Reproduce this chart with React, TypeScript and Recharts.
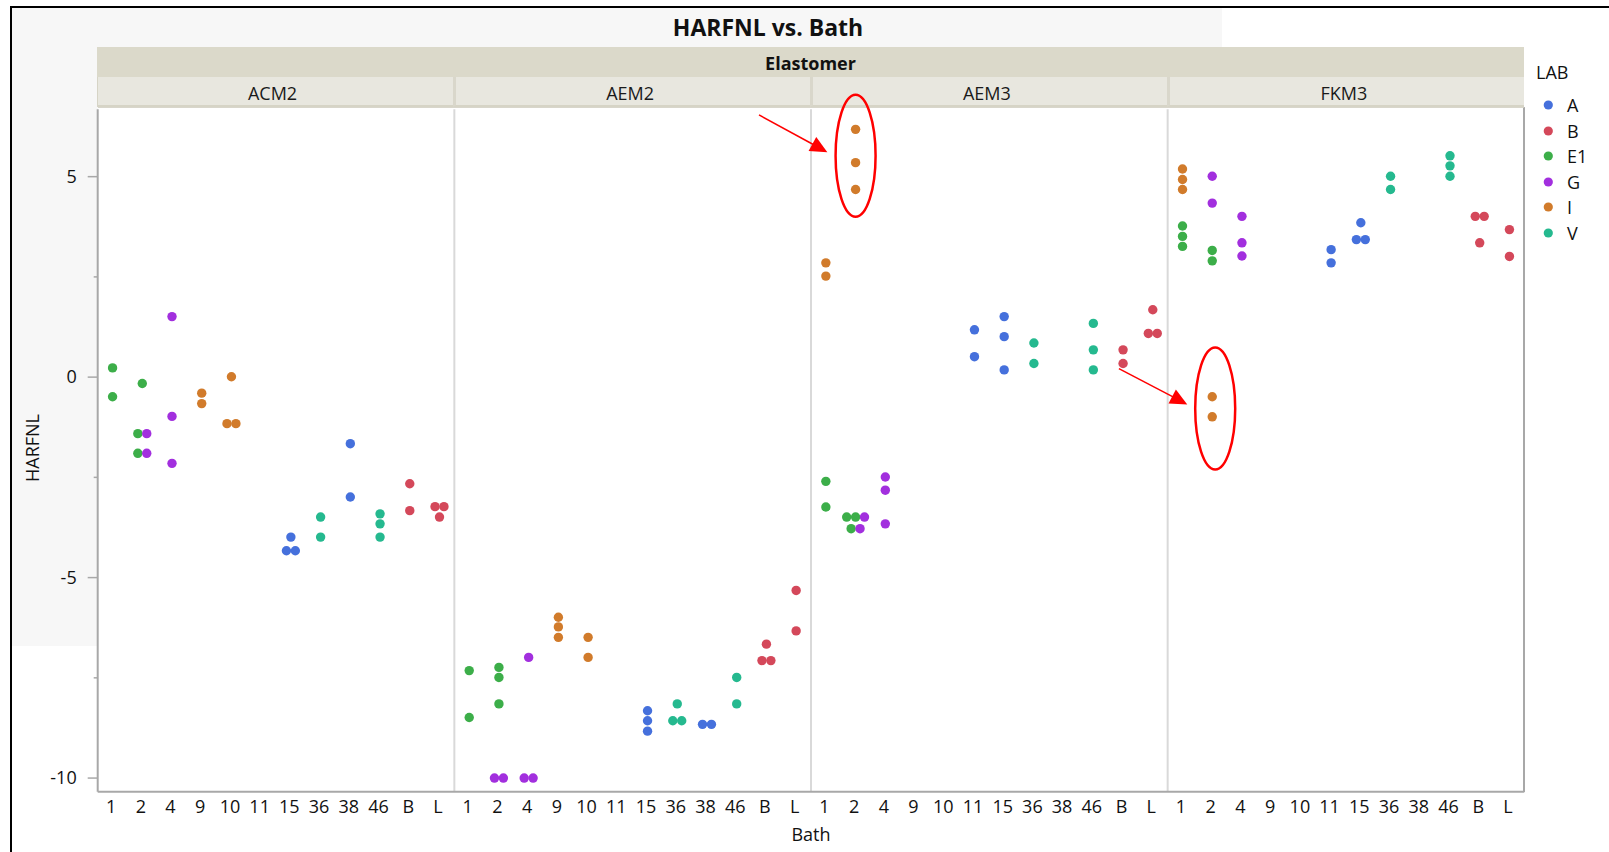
import React from "react";
import { ScatterChart, Scatter, XAxis, YAxis, ReferenceLine, ReferenceDot } from "recharts";

// ---------- data ----------
const elastomers = ["ACM2", "AEM2", "AEM3", "FKM3"];
const baths = ["1", "2", "4", "9", "10", "11", "15", "36", "38", "46", "B", "L"];
const labs = ["A", "B", "E1", "G", "I", "V"];
const labColors = ["#4570DC", "#D4485A", "#3CAE49", "#A22FDE", "#D17B2B", "#25B98F"];
const yTicks = [-10, -7.5, -5, -2.5, 0, 2.5, 5];

type Obs = [string, string, number]; // elastomer, bath, HARFNL

const labA: Obs[] = [
  ["ACM2", "15", -3.99], ["ACM2", "15", -4.33], ["ACM2", "15", -4.33], ["ACM2", "38", -1.66], ["ACM2", "38", -2.99],
  ["AEM2", "15", -8.32], ["AEM2", "15", -8.57], ["AEM2", "15", -8.83], ["AEM2", "38", -8.66], ["AEM2", "38", -8.66],
  ["AEM3", "11", 1.18], ["AEM3", "11", 0.51], ["AEM3", "15", 1.51], ["AEM3", "15", 1.01], ["AEM3", "15", 0.18],
  ["FKM3", "11", 3.18], ["FKM3", "11", 2.85], ["FKM3", "15", 3.85], ["FKM3", "15", 3.43], ["FKM3", "15", 3.43],
];
const labB: Obs[] = [
  ["ACM2", "B", -2.66], ["ACM2", "B", -3.33], ["ACM2", "L", -3.23], ["ACM2", "L", -3.23], ["ACM2", "L", -3.49],
  ["AEM2", "B", -6.66], ["AEM2", "B", -7.07], ["AEM2", "B", -7.07], ["AEM2", "L", -5.32], ["AEM2", "L", -6.33],
  ["AEM3", "B", 0.68], ["AEM3", "B", 0.34], ["AEM3", "L", 1.68], ["AEM3", "L", 1.09], ["AEM3", "L", 1.09],
  ["FKM3", "B", 4.01], ["FKM3", "B", 4.01], ["FKM3", "B", 3.35], ["FKM3", "L", 3.68], ["FKM3", "L", 3.01],
];
const labE1: Obs[] = [
  ["ACM2", "1", 0.23], ["ACM2", "1", -0.49], ["ACM2", "2", -0.16], ["ACM2", "2", -1.41], ["ACM2", "2", -1.9],
  ["AEM2", "1", -7.32], ["AEM2", "1", -8.49], ["AEM2", "2", -7.24], ["AEM2", "2", -7.49], ["AEM2", "2", -8.15],
  ["AEM3", "1", -2.6], ["AEM3", "1", -3.24], ["AEM3", "2", -3.49], ["AEM3", "2", -3.49], ["AEM3", "2", -3.78],
  ["FKM3", "1", 3.77], ["FKM3", "1", 3.51], ["FKM3", "1", 3.26], ["FKM3", "2", 3.16], ["FKM3", "2", 2.9],
];
const labG: Obs[] = [
  ["ACM2", "2", -1.41], ["ACM2", "2", -1.9], ["ACM2", "4", 1.51], ["ACM2", "4", -0.98], ["ACM2", "4", -2.15],
  ["AEM2", "2", -10], ["AEM2", "2", -10], ["AEM2", "4", -6.99], ["AEM2", "4", -10], ["AEM2", "4", -10],
  ["AEM3", "2", -3.49], ["AEM3", "2", -3.78], ["AEM3", "4", -2.49], ["AEM3", "4", -2.82], ["AEM3", "4", -3.66],
  ["FKM3", "2", 5.01], ["FKM3", "2", 4.34], ["FKM3", "4", 4.01], ["FKM3", "4", 3.35], ["FKM3", "4", 3.02],
];
const labI: Obs[] = [
  ["ACM2", "9", -0.4], ["ACM2", "9", -0.66], ["ACM2", "10", 0.01], ["ACM2", "10", -1.16], ["ACM2", "10", -1.16],
  ["AEM2", "9", -5.99], ["AEM2", "9", -6.23], ["AEM2", "9", -6.49], ["AEM2", "10", -6.49], ["AEM2", "10", -6.99],
  ["AEM3", "1", 2.85], ["AEM3", "1", 2.52], ["AEM3", "2", 6.18], ["AEM3", "2", 5.35], ["AEM3", "2", 4.68],
  ["FKM3", "1", 5.19], ["FKM3", "1", 4.93], ["FKM3", "1", 4.68], ["FKM3", "2", -0.49], ["FKM3", "2", -0.99],
];
const labV: Obs[] = [
  ["ACM2", "36", -3.49], ["ACM2", "36", -3.99], ["ACM2", "46", -3.41], ["ACM2", "46", -3.66], ["ACM2", "46", -3.99],
  ["AEM2", "36", -8.15], ["AEM2", "36", -8.57], ["AEM2", "36", -8.57], ["AEM2", "46", -7.49], ["AEM2", "46", -8.15],
  ["AEM3", "36", 0.85], ["AEM3", "36", 0.34], ["AEM3", "46", 1.34], ["AEM3", "46", 0.68], ["AEM3", "46", 0.18],
  ["FKM3", "36", 5.01], ["FKM3", "36", 4.68], ["FKM3", "46", 5.52], ["FKM3", "46", 5.27], ["FKM3", "46", 5.01],
];
const labData = [labA, labB, labE1, labG, labI, labV];

// red call-outs (in data space: x = panel*12 + bath index, y = HARFNL)
const callouts = [
  { from: [21.75, 6.54], to: [24.05, 5.61], center: [25, 5.52] },
  { from: [33.86, 0.21], to: [36.16, -0.68], center: [37.1, -0.78] },
];

// ---------- layout constants ----------
const W = 1609;
const H = 852;
const PL = 97.7;
const PR = 1524.3;
const PT = 109.3;
const PB = 791.7;
const FONT = "'Segoe UI', 'Open Sans', 'Noto Sans', sans-serif";
const N = elastomers.length * baths.length;
const panelW = (PR - PL) / elastomers.length;

// jitter overlapping points side by side (JMP-like)
type Pt = { x: number; y: number; lab: number };
function buildPoints(): Pt[][] {
  const all: { lab: number; base: number; y: number; ord: number }[] = [];
  let ord = 0;
  labData.forEach((arr, li) =>
    arr.forEach(([e, b, v]) => {
      all.push({ lab: li, base: elastomers.indexOf(e) * baths.length + baths.indexOf(b), y: v, ord: ord++ });
    })
  );
  const out: Pt[][] = labs.map(() => []);
  const groups = new Map<number, typeof all>();
  all.forEach((p) => {
    if (!groups.has(p.base)) groups.set(p.base, []);
    groups.get(p.base)!.push(p);
  });
  groups.forEach((arr, base) => {
    const sorted = [...arr].sort((a, b) => b.y - a.y || a.ord - b.ord);
    const clusters: (typeof all)[] = [];
    sorted.forEach((p) => {
      const last = clusters[clusters.length - 1];
      if (last && Math.abs(last[last.length - 1].y - p.y) < 0.2) last.push(p);
      else clusters.push([p]);
    });
    clusters.forEach((c) => {
      const cc = [...c].sort((a, b) => a.ord - b.ord);
      cc.forEach((p, i) => {
        out[p.lab].push({ x: base + (i - (cc.length - 1) / 2) * 0.3, y: p.y, lab: p.lab });
      });
    });
  });
  return out;
}
const series = buildPoints();

const YTick = (props: any) => {
  const { x, y, payload } = props;
  const v = payload.value as number;
  const major = v % 5 === 0;
  return (
    <g>
      <line x1={x - (major ? 10 : 4)} x2={x} y1={y} y2={y} stroke="#a8a8a8" strokeWidth={1.5} />
      {major && (
        <text x={x - 21} y={y} dy="0.35em" textAnchor="end" fontSize={18} fontFamily={FONT} fill="#111">
          {String(v)}
        </text>
      )}
    </g>
  );
};

const XTick = (props: any) => {
  const { x, y, payload } = props;
  const v = payload.value as number;
  return (
    <text x={x - 1.5} y={y} dy="0.71em" textAnchor="middle" fontSize={18} fontFamily={FONT} fill="#111">
      {baths[v % baths.length]}
    </text>
  );
};

const Arrow = (p: any) => {
  const { x1, y1, x2, y2 } = p;
  const dx = x2 - x1;
  const dy = y2 - y1;
  const L = Math.hypot(dx, dy) || 1;
  const ux = dx / L;
  const uy = dy / L;
  const hl = 17;
  const hw = 8;
  const bx = x2 - ux * hl;
  const by = y2 - uy * hl;
  return (
    <g>
      <line x1={x1} y1={y1} x2={bx + ux * 2} y2={by + uy * 2} stroke="#ff0000" strokeWidth={1.5} />
      <polygon points={`${x2},${y2} ${bx - uy * hw},${by + ux * hw} ${bx + uy * hw},${by - ux * hw}`} fill="#ff0000" />
    </g>
  );
};

const Oval = (p: any) => (
  <ellipse cx={p.cx} cy={p.cy} rx={20} ry={61} fill="none" stroke="#ff0000" strokeWidth={2.5} />
);

const abs = (s: React.CSSProperties): React.CSSProperties => ({ position: "absolute", boxSizing: "border-box", ...s });

export default function App() {
  const xTicks = Array.from({ length: N }, (_, i) => i);
  return (
    <div style={abs({ left: 0, top: 0, width: W, height: H, background: "#fff", fontFamily: FONT, overflow: "hidden" })}>
      {/* grey backdrop */}
      <div style={abs({ left: 12, top: 8, width: 1210, height: 638, background: "#f7f7f7" })} />
      {/* white plot area */}
      <div style={abs({ left: PL, top: PT - 2, width: PR - PL + 1, height: PB - PT + 2, background: "#fff", borderRight: "2px solid #a8a8a8", borderTop: "1px solid #d8d6cb" })} />
      {/* title */}
      <div style={abs({ left: 0, top: 11, width: 1536, height: 32, lineHeight: "32px", textAlign: "center", fontSize: 23, fontWeight: 700, color: "#111" })}>
        HARFNL vs. Bath
      </div>
      {/* Elastomer strip */}
      <div style={abs({ left: PL - 1, top: 47.3, width: PR - PL + 1, height: 30, background: "#dbd9ca", textAlign: "center", lineHeight: "32px", fontSize: 18, fontWeight: 700, color: "#111" })}>
        Elastomer
      </div>
      {elastomers.map((e, i) => (
        <div
          key={e}
          style={abs({
            left: PL - 1 + i * panelW,
            top: 77.3,
            width: panelW + (i === elastomers.length - 1 ? 1 : 0),
            height: 30,
            background: "#e8e7df",
            borderLeft: i === 0 ? "1px solid #d6d4c6" : "3px solid #d9d7cb",
            borderBottom: "2px solid #d6d4c6",
            textAlign: "center",
            lineHeight: "32px",
            fontSize: 18,
            color: "#1a1a1a",
            paddingRight: 6,
          })}
        >
          {e}
        </div>
      ))}
      {/* axis titles */}
      <div style={abs({ left: PL, top: 821, width: PR - PL, height: 26, lineHeight: "26px", textAlign: "center", fontSize: 18, color: "#111" })}>Bath</div>
      <div style={abs({ left: 32 - 60, top: 448 - 13, width: 120, height: 26, lineHeight: "26px", textAlign: "center", fontSize: 18, color: "#111", transform: "rotate(-90deg)" })}>
        HARFNL
      </div>
      {/* legend */}
      <div style={abs({ left: 1536, top: 58, height: 28, lineHeight: "28px", fontSize: 18, color: "#111" })}>LAB</div>
      {labs.map((l, i) => (
        <div key={l} style={abs({ left: 1542, top: 105 + i * 25.6 - 13, height: 26, width: 60 })}>
          <svg width={14} height={26} style={{ position: "absolute", left: 0, top: 0 }}>
            <circle cx={6.3} cy={13} r={4.6} fill={labColors[i]} />
          </svg>
          <span style={{ position: "absolute", left: 25, top: 0, lineHeight: "26px", fontSize: 18, color: "#111" }}>{l}</span>
        </div>
      ))}
      {/* chart */}
      <div style={abs({ left: 0, top: 0, width: W, height: H })}>
        <ScatterChart width={W} height={H} margin={{ top: PT, right: W - PR, bottom: H - PB - 30, left: PL - 60 }}>
          <XAxis
            type="number"
            dataKey="x"
            domain={[-0.5, N - 0.5]}
            ticks={xTicks}
            interval={0}
            allowDataOverflow
            height={30}
            tickLine={false}
            tickSize={6}
            tickMargin={3}
            axisLine={{ stroke: "#a8a8a8", strokeWidth: 2 }}
            tick={<XTick />}
          />
          <YAxis
            type="number"
            dataKey="y"
            domain={[-10.34, 6.68]}
            ticks={yTicks}
            interval={0}
            allowDataOverflow
            width={60}
            tickLine={false}
            tickSize={0}
            tickMargin={0}
            axisLine={{ stroke: "#a8a8a8", strokeWidth: 2 }}
            tick={<YTick />}
          />
          {[1, 2, 3].map((k) => (
            <ReferenceLine key={k} x={k * baths.length - 0.5} stroke="#d9d9d9" strokeWidth={2} />
          ))}
          {series.map((pts, li) => (
            <Scatter
              key={labs[li]}
              name={labs[li]}
              data={pts}
              isAnimationActive={false}
              fill={labColors[li]}
              shape={(p: any) => <circle cx={p.cx} cy={p.cy} r={4.7} fill={labColors[li]} />}
            />
          ))}
          {callouts.map((c, i) => (
            <ReferenceLine
              key={"a" + i}
              segment={[{ x: c.from[0], y: c.from[1] }, { x: c.to[0], y: c.to[1] }]}
              ifOverflow="visible"
              shape={Arrow}
            />
          ))}
          {callouts.map((c, i) => (
            <ReferenceDot key={"o" + i} x={c.center[0]} y={c.center[1]} r={20} ifOverflow="visible" shape={Oval} />
          ))}
        </ScatterChart>
      </div>
      {/* outer frame */}
      <div style={abs({ left: 10, top: 6, width: W, height: H, borderTop: "2px solid #000", borderLeft: "2px solid #000" })} />
    </div>
  );
}
